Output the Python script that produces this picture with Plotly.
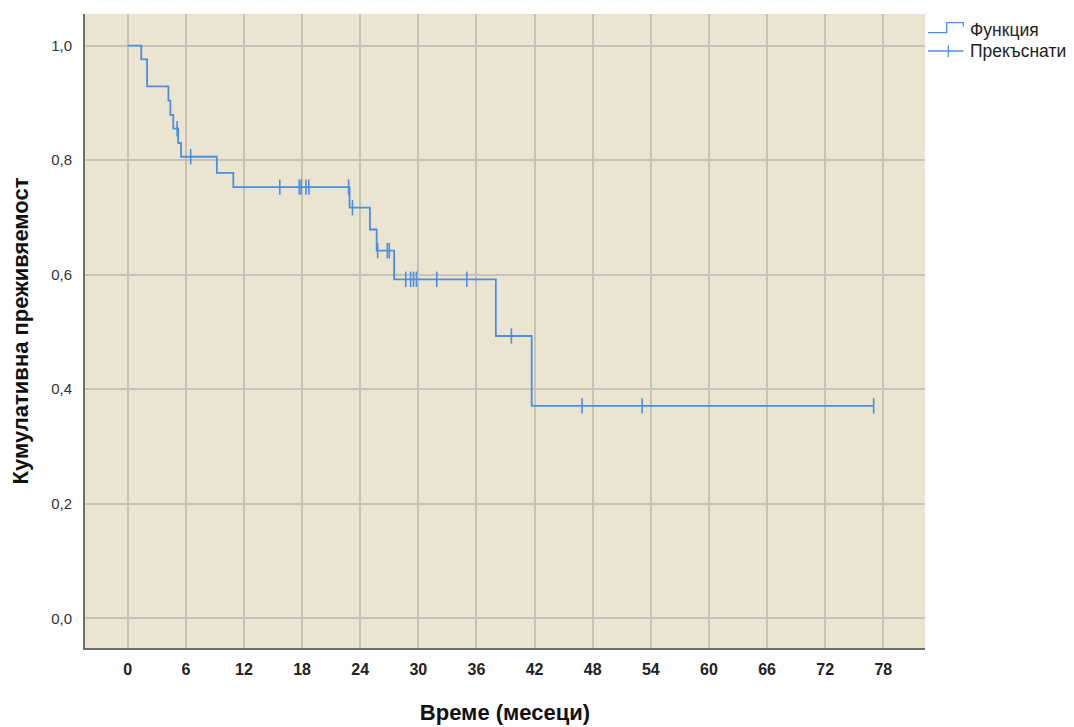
import plotly.graph_objects as go

# Kaplan–Meier step function: times (months) where survival drops, and the level after each drop
step_times = [0, 1.4, 2.0, 4.2, 4.4, 4.7, 5.2, 5.5, 9.2, 10.9, 22.9, 25.0, 25.7, 27.5, 38.0, 41.7]
survival = [1.0, 0.976, 0.929, 0.904, 0.879, 0.855, 0.830, 0.806, 0.778, 0.753, 0.717, 0.679, 0.642, 0.592, 0.493, 0.371]
follow_up_end = 77.0

# Censored observations (months)
censor_times = [5.1, 6.5, 15.7, 17.7, 17.9, 18.4, 18.7, 22.8, 23.2, 25.8, 26.8, 27.0,
                28.7, 29.2, 29.5, 29.8, 31.9, 35.0, 39.6, 46.9, 53.1, 77.0]

x_ticks = [0, 6, 12, 18, 24, 30, 36, 42, 48, 54, 60, 66, 72, 78]
y_ticks = [0.0, 0.2, 0.4, 0.6, 0.8, 1.0]
y_tick_labels = ["0,0", "0,2", "0,4", "0,6", "0,8", "1,0"]

LINE = "#4a90e2"
GRID = "#c6c2b8"
BG = "#ebe4d0"


def level_at(t):
    """Survival level of the step function at time t."""
    s = survival[0]
    for st, sv in zip(step_times, survival):
        if st <= t:
            s = sv
    return s


# Build the step polyline
xs, ys = [], []
for i, (t, s) in enumerate(zip(step_times, survival)):
    if i > 0:
        xs.append(t)
        ys.append(survival[i - 1])
    xs.append(t)
    ys.append(s)
xs.append(follow_up_end)
ys.append(survival[-1])

fig = go.Figure()
fig.add_trace(go.Scatter(
    x=xs, y=ys, mode="lines",
    line=dict(color=LINE, width=1.8),
    showlegend=False, hoverinfo="skip",
))
fig.add_trace(go.Scatter(
    x=censor_times, y=[level_at(t) for t in censor_times], mode="markers",
    marker=dict(symbol="line-ns-open", size=11, color=LINE, line=dict(color=LINE, width=1.6)),
    showlegend=False,
))

# Legend drawn in paper space to the right of the plot
PW = 925 - 85
PH = 648 - 14


def px(xp):
    return (xp - 85) / PW


def py(yp):
    return (648 - yp) / PH


legend_shapes = [
    # step icon
    dict(type="path",
         path=f"M {px(928)} {py(32.7)} L {px(946.7)} {py(32.7)} L {px(946.7)} {py(22.7)} "
              f"L {px(963.3)} {py(22.7)} L {px(963.3)} {py(26.5)}",
         xref="paper", yref="paper", line=dict(color=LINE, width=1.3)),
    # censor icon
    dict(type="line", x0=px(928), x1=px(963.3), y0=py(51), y1=py(51),
         xref="paper", yref="paper", line=dict(color=LINE, width=1.3)),
    dict(type="line", x0=px(948.3), x1=px(948.3), y0=py(45.5), y1=py(57),
         xref="paper", yref="paper", line=dict(color=LINE, width=1.3)),
]
for s in legend_shapes:
    fig.add_shape(**s)

legend_items = [("Функция", 30.5), ("Прекъснати", 51)]
for text, yp in legend_items:
    fig.add_annotation(
        x=px(968), y=py(yp), xref="paper", yref="paper",
        text=text, showarrow=False, xanchor="left", yanchor="middle",
        font=dict(family="Liberation Sans, Arial, sans-serif", size=17.5, color="#222222"),
    )

fig.update_layout(
    width=1074, height=727,
    margin=dict(l=85, r=149, t=14, b=79, autoexpand=False),
    paper_bgcolor="white",
    plot_bgcolor=BG,
    showlegend=False,
    xaxis=dict(
        range=[-4.41, 82.3],
        automargin=False,
        tickvals=x_ticks,
        ticktext=[f"<b>{v}</b>" for v in x_ticks],
        tickfont=dict(family="Liberation Sans Narrow, Arial Narrow, Liberation Sans, sans-serif",
                      size=16, color="#222222"),
        showgrid=True, gridcolor=GRID, gridwidth=2,
        zeroline=False,
        showline=True, linecolor="#6e6e6e", linewidth=2,
        ticks="", ticklabelstandoff=6,
        title=dict(text="<b>Време (месеци)</b>", standoff=27,
                   font=dict(family="Liberation Sans, Arial, sans-serif", size=22, color="#111111")),
    ),
    yaxis=dict(
        range=[-0.0519, 1.0553],
        automargin=False,
        tickvals=y_ticks,
        ticktext=y_tick_labels,
        tickfont=dict(family="Liberation Sans, Arial, sans-serif", size=15, color="#333333"),
        showgrid=True, gridcolor=GRID, gridwidth=2,
        zeroline=False,
        showline=True, linecolor="#6e6e6e", linewidth=2,
        ticks="", ticklabelstandoff=8,
        title=dict(text="<b>Кумулативна преживяемост</b>", standoff=16,
                   font=dict(family="Liberation Sans, Arial, sans-serif", size=22, color="#111111")),
    ),
)

fig.write_html("out.html")
